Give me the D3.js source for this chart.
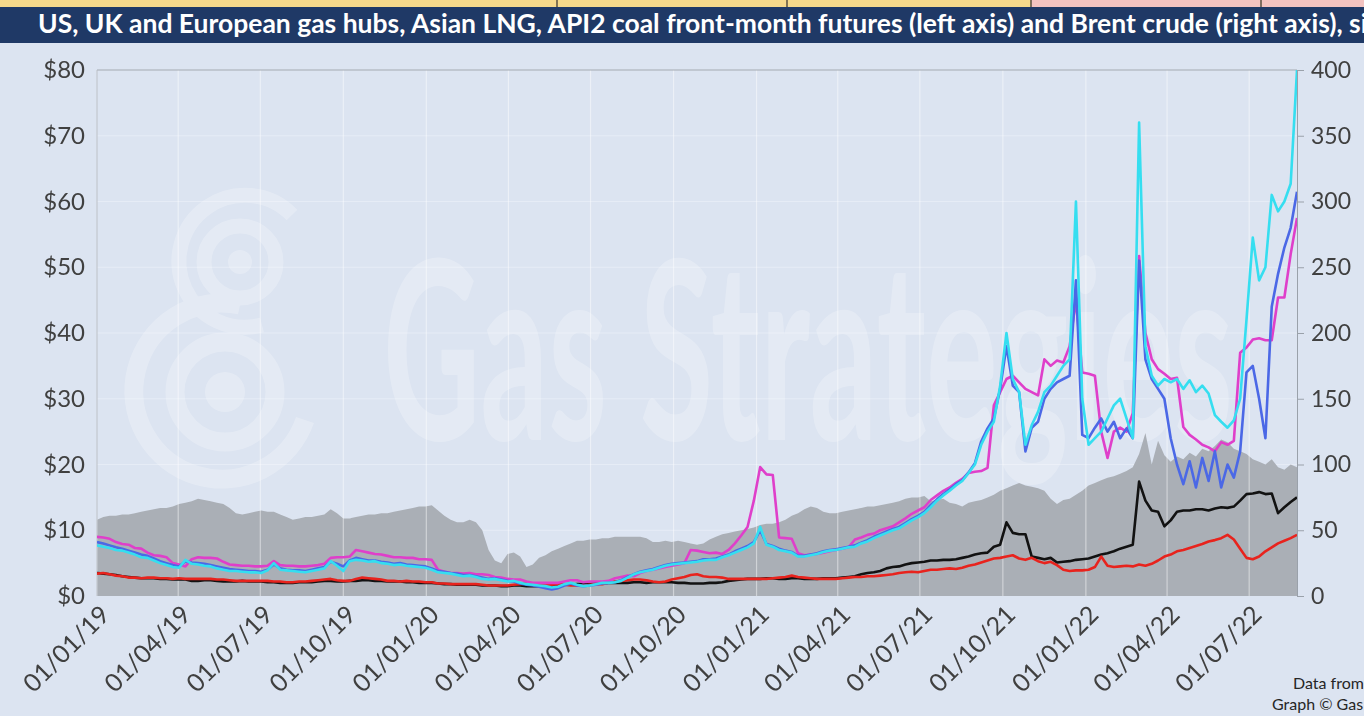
<!DOCTYPE html>
<html>
<head>
<meta charset="utf-8">
<script src="https://cdn.jsdelivr.net/npm/d3@7"></script>
<style>
  body { margin: 0; background: #dce4f1; overflow: hidden; }
  svg { display: block; font-family: Lato, "Open Sans", sans-serif; }
</style>
</head>
<body>
<div id="chart"></div>
<script>
// weekly readings, first point 01/01/2019
const startDate = "2019-01-01"

// Brent crude, $/bbl (right axis)
const brent = [
  58, 60, 61, 61, 62, 62, 63, 64, 65, 66, 67, 67, 68,
  70, 71, 72, 74, 73, 72, 71, 70, 67, 63, 62, 63, 64,
  65, 64, 64, 62, 60, 58, 59, 60, 60, 61, 62, 66, 63,
  59, 59, 60, 61, 62, 62, 63, 63, 64, 65, 66, 67, 68,
  68, 69, 65, 61, 58, 56, 56, 58, 56, 50, 35, 27, 25,
  32, 33, 30, 22, 24, 29, 31, 34, 36, 38, 40, 42, 42,
  43, 43, 44, 44, 45, 45, 45, 45, 45, 44, 41, 41, 42,
  41, 42, 41, 40, 39, 40, 43, 45, 47, 48, 49, 50, 51,
  52, 54, 55, 55, 56, 58, 61, 63, 66, 68, 67, 64, 63,
  63, 64, 65, 66, 67, 68, 68, 69, 70, 71, 72, 74, 75,
  75, 76, 72, 73, 74, 71, 70, 68, 71, 72, 73, 75, 77,
  80, 82, 84, 86, 84, 83, 82, 80, 74, 70, 73, 74, 77,
  80, 84, 86, 88, 90, 91, 93, 95, 98, 108, 124, 100, 118,
  107, 102, 106, 104, 109, 106, 112, 110, 114, 119, 117, 112, 110,
  108, 104, 102, 100, 104, 98, 96, 100, 98
]

// Henry Hub, $/MMBtu
const henryHub = [
  3.4, 3.5, 3.3, 3.1, 3.0, 2.8, 2.8, 2.7, 2.8, 2.8, 2.7, 2.7, 2.6,
  2.7, 2.6, 2.6, 2.6, 2.6, 2.6, 2.5, 2.5, 2.4, 2.3, 2.3, 2.3, 2.3,
  2.3, 2.3, 2.2, 2.2, 2.1, 2.1, 2.2, 2.2, 2.3, 2.4, 2.5, 2.6, 2.4,
  2.3, 2.3, 2.6, 2.8, 2.7, 2.6, 2.5, 2.3, 2.3, 2.2, 2.3, 2.2, 2.2,
  2.1, 2.1, 1.9, 1.9, 1.8, 1.8, 1.8, 1.8, 1.8, 1.7, 1.6, 1.6, 1.6,
  1.6, 1.7, 1.8, 1.9, 1.8, 1.8, 1.7, 1.7, 1.8, 1.7, 1.6, 1.6, 1.6,
  1.7, 1.8, 1.8, 2.0, 2.2, 2.3, 2.4, 2.5, 2.5, 2.4, 2.2, 2.1, 2.2,
  2.5, 2.7, 2.9, 3.2, 3.3, 3.0, 2.9, 2.9, 2.8, 2.6, 2.6, 2.6, 2.6,
  2.6, 2.6, 2.6, 2.7, 2.8, 2.9, 3.1, 2.9, 2.8, 2.7, 2.6, 2.6, 2.6,
  2.6, 2.7, 2.8, 2.9, 2.9, 3.0, 3.0, 3.1, 3.2, 3.3, 3.5, 3.6, 3.7,
  3.6, 3.8, 4.0, 4.0, 4.1, 4.2, 4.1, 4.3, 4.6, 4.8, 5.1, 5.4, 5.7,
  5.8, 6.0, 6.2, 5.7, 5.5, 5.8, 5.3, 5.0, 5.2, 4.7, 4.0, 3.8, 3.9,
  3.9, 4.0, 4.4, 6.0, 4.6, 4.4, 4.5, 4.6, 4.5, 4.8, 4.6, 4.9, 5.4,
  6.0, 6.3, 6.8, 7.0, 7.3, 7.6, 7.9, 8.3, 8.5, 8.8, 9.3, 8.6, 7.2,
  5.8, 5.6, 6.0, 6.8, 7.4, 8.0, 8.4, 8.8, 9.3
]

// API2 coal, $/MMBtu
const coal = [
  3.5, 3.4, 3.3, 3.2, 3.0, 2.9, 2.8, 2.7, 2.7, 2.7, 2.6, 2.6, 2.5,
  2.5, 2.5, 2.3, 2.3, 2.4, 2.4, 2.3, 2.2, 2.2, 2.2, 2.3, 2.2, 2.2,
  2.2, 2.1, 2.1, 2.0, 2.0, 2.0, 2.1, 2.1, 2.1, 2.2, 2.3, 2.3, 2.2,
  2.2, 2.3, 2.3, 2.4, 2.4, 2.3, 2.3, 2.2, 2.2, 2.2, 2.1, 2.1, 2.0,
  2.0, 2.0, 1.9, 1.8, 1.8, 1.7, 1.7, 1.7, 1.7, 1.6, 1.6, 1.6, 1.5,
  1.5, 1.6, 1.6, 1.5, 1.5, 1.5, 1.6, 1.6, 1.7, 1.7, 1.7, 1.8, 1.8,
  1.8, 1.9, 1.9, 2.0, 2.0, 2.0, 2.0, 2.1, 2.1, 2.0, 2.1, 2.1, 2.1,
  2.1, 2.0, 2.0, 1.9, 1.9, 1.9, 2.0, 2.0, 2.1, 2.3, 2.4, 2.5, 2.6,
  2.6, 2.6, 2.7, 2.7, 2.6, 2.6, 2.7, 2.7, 2.6, 2.6, 2.6, 2.7, 2.7,
  2.7, 2.8, 2.9, 3.0, 3.3, 3.5, 3.6, 3.8, 4.2, 4.4, 4.5, 4.8, 5.0,
  5.1, 5.2, 5.4, 5.4, 5.5, 5.5, 5.6, 5.8, 6.0, 6.3, 6.5, 6.6, 7.5,
  7.8, 11.2, 9.6, 9.4, 9.4, 6.0, 5.8, 5.6, 5.8, 5.1, 5.2, 5.3, 5.5,
  5.6, 5.7, 6.0, 6.3, 6.5, 6.8, 7.2, 7.5, 7.8, 17.4, 14.5, 13.0, 12.8,
  10.6, 11.5, 12.8, 13.0, 13.0, 13.2, 13.2, 13.0, 13.3, 13.5, 13.4, 13.6, 14.5,
  15.5, 15.6, 15.8, 15.5, 15.6, 12.6, 13.5, 14.3, 15.0
]

// Asian LNG (JKM), $/MMBtu
const jkm = [
  9.0, 8.9, 8.7, 8.2, 7.9, 7.8, 7.3, 7.2, 6.6, 6.2, 6.1, 5.9, 5.0,
  4.8, 4.5, 5.6, 5.9, 5.8, 5.8, 5.7, 5.2, 4.8, 4.7, 4.6, 4.6, 4.5,
  4.5, 4.6, 5.3, 4.7, 4.6, 4.6, 4.5, 4.5, 4.6, 4.7, 4.9, 5.8, 5.9,
  5.9, 6.0, 7.0, 6.8, 6.6, 6.4, 6.3, 6.1, 5.9, 5.9, 5.8, 5.8, 5.6,
  5.6, 5.5, 4.0, 3.7, 3.5, 3.5, 3.4, 3.5, 3.3, 3.3, 3.2, 2.9, 2.8,
  2.6, 2.5, 2.5, 2.2, 2.0, 2.0, 2.0, 2.0, 2.0, 2.2, 2.4, 2.4, 2.1,
  2.2, 2.2, 2.2, 2.3, 2.7, 2.9, 3.1, 3.0, 3.5, 3.8, 4.0, 4.2, 4.4,
  4.6, 4.8, 5.0, 7.0, 6.9, 6.7, 6.5, 6.6, 6.4, 7.0, 8.0, 9.2, 10.5,
  14.5, 19.6, 18.5, 18.4, 8.9, 8.8, 8.7, 6.5, 6.2, 6.3, 6.4, 6.6, 6.8,
  7.0, 7.2, 7.4, 8.6, 8.9, 9.3, 9.5, 10.0, 10.3, 10.6, 11.2, 11.8, 12.5,
  13.0, 13.5, 14.6, 15.3, 16.0, 16.5, 17.2, 17.8, 18.7, 18.9, 19.0, 19.5, 29.0,
  31.0, 33.0, 33.5, 32.5, 31.5, 31.0, 30.5, 36.0, 35.0, 35.8, 35.5, 38.0, 45.0,
  34.0, 33.8, 33.5, 25.0, 21.0, 25.0, 25.6, 25.0, 27.8, 51.7, 40.0, 36.0, 34.5,
  33.8, 33.0, 33.2, 25.7, 24.5, 23.8, 23.0, 22.6, 22.0, 23.4, 23.0, 23.6, 37.0,
  37.8, 39.0, 39.2, 38.9, 38.9, 45.4, 45.4, 52.0, 57.5
]

// UK NBP, $/MMBtu
const nbp = [
  8.2, 8.0, 7.7, 7.4, 7.2, 6.9, 6.6, 6.3, 6.1, 5.7, 5.3, 5.0, 4.7,
  4.5, 5.3, 5.1, 5.0, 4.9, 4.7, 4.5, 4.3, 4.1, 4.0, 3.9, 3.8, 3.8,
  3.7, 4.0, 4.8, 4.2, 4.0, 3.9, 3.9, 3.8, 4.0, 4.2, 4.4, 5.2, 4.9,
  4.5, 5.4, 5.8, 5.6, 5.4, 5.4, 5.2, 5.1, 4.9, 5.0, 4.8, 4.7, 4.6,
  4.5, 4.2, 3.8, 3.7, 3.5, 3.4, 3.2, 3.2, 3.0, 2.8, 2.6, 2.7, 2.5,
  2.3, 2.2, 1.9, 1.7, 1.6, 1.4, 1.2, 1.0, 1.2, 1.6, 1.9, 1.6, 1.5,
  1.6, 1.7, 1.9, 2.0, 2.1, 2.4, 2.9, 3.3, 3.7, 3.9, 4.1, 4.4, 4.7,
  4.9, 5.0, 5.1, 5.2, 5.3, 5.6, 5.6, 5.7, 6.0, 6.3, 6.8, 7.2, 7.6,
  8.2, 10.0, 7.9, 7.6, 7.2, 6.9, 6.7, 6.1, 6.1, 6.3, 6.5, 6.8, 7.0,
  7.1, 7.3, 7.5, 7.7, 8.1, 8.5, 9.0, 9.4, 9.8, 10.2, 10.5, 11.1, 11.7,
  12.2, 12.8, 13.8, 14.7, 15.5, 16.2, 17.0, 17.6, 18.8, 20.2, 23.5, 25.5, 27.0,
  31.5, 38.0, 32.0, 31.0, 22.0, 25.6, 26.5, 30.0, 31.5, 32.5, 33.0, 33.5, 48.0,
  24.5, 24.0, 25.6, 27.0, 25.0, 26.5, 24.0, 25.5, 24.0, 51.0, 36.0, 33.0, 31.5,
  30.0, 24.0, 20.0, 17.0, 20.5, 16.5, 21.0, 17.5, 22.0, 16.5, 20.0, 18.0, 22.0,
  34.0, 35.0, 30.0, 24.0, 44.0, 49.0, 53.0, 56.0, 61.5
]

// Dutch TTF, $/MMBtu
const ttf = [
  7.7, 7.5, 7.3, 7.0, 6.9, 6.6, 6.3, 5.9, 5.8, 5.4, 5.0, 4.7, 4.4,
  4.3, 5.5, 4.9, 4.8, 4.6, 4.5, 4.2, 4.0, 3.8, 3.8, 3.7, 3.6, 3.6,
  3.5, 3.9, 5.0, 4.0, 3.9, 3.8, 3.7, 3.6, 3.8, 4.0, 4.2, 5.3, 4.6,
  3.8, 5.3, 5.5, 5.4, 5.2, 5.3, 5.0, 4.9, 4.7, 4.8, 4.6, 4.5, 4.4,
  4.3, 4.0, 3.6, 3.5, 3.4, 3.2, 3.0, 3.1, 2.9, 2.6, 2.5, 2.6, 2.4,
  2.2, 2.3, 2.0, 1.8, 1.7, 1.6, 1.5, 1.3, 1.4, 1.8, 2.0, 1.7, 1.5,
  1.6, 1.8, 2.0, 2.0, 2.1, 2.3, 2.8, 3.3, 3.6, 3.8, 4.0, 4.3, 4.6,
  4.8, 4.9, 5.0, 5.1, 5.2, 5.4, 5.5, 5.5, 5.9, 6.2, 6.6, 7.0, 7.4,
  8.0, 10.5, 7.8, 7.5, 7.0, 6.8, 6.6, 6.0, 6.0, 6.2, 6.4, 6.7, 6.9,
  7.0, 7.2, 7.4, 7.5, 8.0, 8.3, 8.8, 9.2, 9.6, 10.0, 10.3, 10.9, 11.5,
  12.0, 12.6, 13.5, 14.5, 15.3, 16.0, 16.8, 17.5, 18.7, 20.0, 23.0, 25.0, 26.5,
  32.0, 40.0, 33.0, 31.0, 23.0, 26.0, 28.0, 31.0, 32.0, 33.5, 35.0, 36.0, 60.0,
  30.0, 23.0, 24.0, 25.0, 27.0, 29.0, 30.0, 27.0, 24.0, 72.0, 38.0, 33.5, 32.0,
  33.0, 32.5, 33.0, 31.5, 32.8, 31.0, 32.0, 30.8, 27.5, 26.5, 25.6, 26.7, 30.0,
  42.0, 54.5, 48.0, 50.0, 61.0, 58.5, 60.0, 62.7, 80.0
]

const xTickLabels = ["01/01/19", "01/04/19", "01/07/19", "01/10/19", "01/01/20", "01/04/20", "01/07/20",
  "01/10/20", "01/01/21", "01/04/21", "01/07/21", "01/10/21", "01/01/22", "01/04/22", "01/07/22"]
const leftTicks = [0, 10, 20, 30, 40, 50, 60, 70, 80]
const rightTicks = [0, 50, 100, 150, 200, 250, 300, 350, 400]

const titleText = "US, UK and European gas hubs, Asian LNG, API2 coal front-month futures (left axis) and Brent crude (right axis), since 2019"

// ---------- drawing ----------
const width = 1364, height = 716
const plot = {left: 97, right: 1297, top: 70, bottom: 596}
const axisColor = "#404040"

const parseTick = d3.timeParse("%d/%m/%y")
const start = d3.timeParse("%Y-%m-%d")(startDate)
const dates = brent.map((d, i) => d3.timeDay.offset(start, 7 * i))

const svg = d3.select("#chart").append("svg")
    .attr("width", width)
    .attr("height", height)

svg.append("rect")
    .attr("width", width)
    .attr("height", height)
    .attr("fill", "#dce4f1")

// leftover table strip above the title
const strip = svg.append("g")
strip.append("rect").attr("x", 0).attr("y", 0).attr("width", 1031).attr("height", 7).attr("fill", "#f6d98b")
strip.append("rect").attr("x", 1031).attr("y", 0).attr("width", 333).attr("height", 7).attr("fill", "#f3c3c0")
;[557, 787, 1031, 1261].forEach(px => {
    strip.append("line")
        .attr("x1", px).attr("x2", px)
        .attr("y1", 0).attr("y2", 7)
        .attr("stroke", "#5a5040")
        .attr("stroke-width", 1.5)
})

// title bar
svg.append("rect")
    .attr("x", 0).attr("y", 7)
    .attr("width", width).attr("height", 36)
    .attr("fill", "#1f3966")

let title = svg.append("text")
    .attr("x", 38)
    .attr("y", 33)
    .attr("fill", "#ffffff")
    .style("font-weight", "bold")
    .style("font-size", "22px")
    .text(titleText)

// scale the title so the visible part ends at the right edge like the source
let cut = titleText.indexOf("), s") + 4
let visibleLen = title.node().getSubStringLength(0, cut)
title.style("font-size", `${22 * (1361 - 38) / visibleLen}px`)

// scales
const x = d3.scaleTime()
    .domain([dates[0], dates[dates.length - 1]])
    .range([plot.left, plot.right])

const yLeft = d3.scaleLinear().domain([0, 80]).range([plot.bottom, plot.top])
const yRight = d3.scaleLinear().domain([0, 400]).range([plot.bottom, plot.top])

svg.append("defs").append("clipPath")
    .attr("id", "plot-clip")
    .append("rect")
    .attr("x", plot.left)
    .attr("y", plot.top - 2)
    .attr("width", plot.right - plot.left)
    .attr("height", plot.bottom - plot.top + 2)

// faint horizontal grid
svg.append("g")
    .selectAll("line")
    .data(leftTicks.slice(1, -1))
    .join("line")
    .attr("x1", plot.left).attr("x2", plot.right)
    .attr("y1", d => yLeft(d)).attr("y2", d => yLeft(d))
    .attr("stroke", "#e6ecf6")
    .attr("stroke-width", 1)

// watermark, squeezed horizontally so its real box stays inside the plot
let mark = svg.append("g").attr("opacity", 0.24)
let markText = mark.append("g").append("text")
    .attr("x", 0)
    .attr("y", 0)
    .attr("fill", "#ffffff")
    .style("font-size", "250px")
    .style("font-weight", "bold")
    .text("Gas Strategies")
let markLen = markText.node().getComputedTextLength()
d3.select(markText.node().parentNode)
    .attr("transform", `translate(383,440) scale(${850 / markLen},1)`)

let logo = mark.append("g").attr("fill", "none").attr("stroke", "#ffffff")
logo.append("circle").attr("cx", 240).attr("cy", 262).attr("r", 12).attr("fill", "#ffffff").attr("stroke", "none")
logo.append("circle").attr("cx", 240).attr("cy", 262).attr("r", 36).attr("stroke-width", 15)
logo.append("path").attr("d", "M 292 215 A 66 66 0 1 0 262 325").attr("stroke-width", 15)
logo.append("circle").attr("cx", 225).attr("cy", 392).attr("r", 20).attr("fill", "#ffffff").attr("stroke", "none")
logo.append("circle").attr("cx", 225).attr("cy", 392).attr("r", 50).attr("stroke-width", 19)
logo.append("path").attr("d", "M 240 305 A 88 88 0 1 0 305 420").attr("stroke-width", 19)

// Brent shaded area on the right axis
const area = d3.area()
    .x((d, i) => x(dates[i]))
    .y0(yRight(0))
    .y1(d => yRight(d))

svg.append("path")
    .datum(brent)
    .attr("d", area)
    .attr("fill", "#aaafb6")

// vertical gridlines at each quarter
const tickDates = xTickLabels.map(parseTick)
svg.append("g")
    .selectAll("line")
    .data(tickDates)
    .join("line")
    .attr("x1", d => x(d)).attr("x2", d => x(d))
    .attr("y1", plot.top).attr("y2", plot.bottom)
    .attr("stroke", "#ffffff")
    .attr("stroke-opacity", 0.45)
    .attr("stroke-width", 1.2)

// plot frame
svg.append("line")
    .attr("x1", plot.left).attr("x2", plot.right)
    .attr("y1", plot.top).attr("y2", plot.top)
    .attr("stroke", "#a3a9b2")
    .attr("stroke-width", 1.2)

svg.append("line")
    .attr("x1", plot.left).attr("x2", plot.left)
    .attr("y1", plot.top).attr("y2", plot.bottom)
    .attr("stroke", "#b4bac3")
    .attr("stroke-width", 1)

// price lines
const series = [
    {name: "API2 coal", values: coal, color: "#121212"},
    {name: "Henry Hub", values: henryHub, color: "#e8231d"},
    {name: "JKM", values: jkm, color: "#df3fca"},
    {name: "NBP", values: nbp, color: "#4b68e6"},
    {name: "TTF", values: ttf, color: "#35def0"}
]

const line = d3.line()
    .x((d, i) => x(dates[i]))
    .y(d => yLeft(d))

svg.append("g")
    .attr("clip-path", "url(#plot-clip)")
    .selectAll("path")
    .data(series)
    .join("path")
    .attr("d", d => line(d.values))
    .attr("fill", "none")
    .attr("stroke", d => d.color)
    .attr("stroke-width", 2.6)
    .attr("stroke-linejoin", "round")

// left axis
let leftAxis = svg.append("g")
    .attr("transform", `translate(${plot.left},0)`)
    .call(d3.axisLeft(yLeft).tickValues(leftTicks).tickFormat(d => "$" + d).tickSize(0).tickPadding(12))
leftAxis.select(".domain").remove()
leftAxis.selectAll("text")
    .attr("fill", axisColor)
    .style("font-size", "24px")
    .style("font-family", "Lato, 'Open Sans', sans-serif")

// right axis
let rightAxis = svg.append("g")
    .attr("transform", `translate(${plot.right},0)`)
    .call(d3.axisRight(yRight).tickValues(rightTicks).tickSize(7).tickPadding(7))
rightAxis.select(".domain").attr("stroke", "#9aa1aa")
rightAxis.selectAll("line").attr("stroke", "#9aa1aa")
rightAxis.selectAll("text")
    .attr("fill", axisColor)
    .style("font-size", "23px")
    .style("font-family", "Lato, 'Open Sans', sans-serif")

// date labels, rotated
svg.append("g")
    .selectAll("text")
    .data(tickDates)
    .join("text")
    .attr("transform", d => `translate(${x(d) + 8},${plot.bottom + 14}) rotate(-45)`)
    .attr("text-anchor", "end")
    .attr("dy", "0.35em")
    .attr("fill", axisColor)
    .style("font-size", "25px")
    .text((d, i) => xTickLabels[i])

// source notes
svg.append("text")
    .attr("x", 1293).attr("y", 689)
    .attr("fill", "#262626")
    .style("font-size", "16px")
    .text("Data from ICE")

svg.append("text")
    .attr("x", 1272).attr("y", 710)
    .attr("fill", "#262626")
    .style("font-size", "16px")
    .text("Graph © Gas Strategies")
</script>
</body>
</html>
